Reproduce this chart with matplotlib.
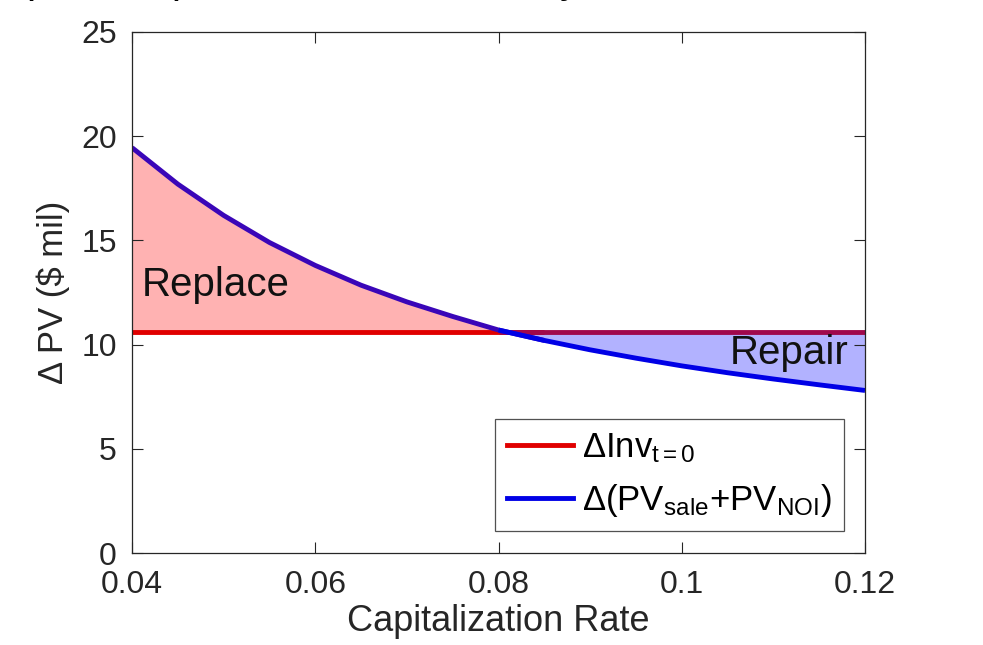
import matplotlib
matplotlib.use('Agg')
import matplotlib.pyplot as plt
import numpy as np

# capitalization rate vs change in present value ($ mil)
cap_rate = [0.040, 0.045, 0.050, 0.055, 0.060, 0.065, 0.070, 0.075, 0.080,
            0.085, 0.090, 0.095, 0.100, 0.105, 0.110, 0.115, 0.120]
pv_sale_noi = [19.45, 17.70, 16.20, 14.90, 13.80, 12.85, 12.05, 11.35, 10.70,
               10.20, 9.75, 9.35, 8.98, 8.65, 8.35, 8.07, 7.80]
inv_t0 = [10.6] * len(cap_rate)

x_ticks = [0.04, 0.06, 0.08, 0.1, 0.12]
x_labels = ['0.04', '0.06', '0.08', '0.1', '0.12']
y_ticks = [0, 5, 10, 15, 20, 25]

plt.rcParams['font.family'] = ['Liberation Sans', 'DejaVu Sans']
plt.rcParams['mathtext.fontset'] = 'custom'
plt.rcParams['mathtext.rm'] = 'Liberation Sans'
plt.rcParams['mathtext.it'] = 'Liberation Sans:italic'
plt.rcParams['mathtext.bf'] = 'Liberation Sans:bold'

fig = plt.figure(figsize=(9.83, 6.45), dpi=100)
ax = fig.add_axes([0.1343, 0.1426, 0.7457, 0.8078])

x = np.array(cap_rate)
blue = np.array(pv_sale_noi)
red = np.array(inv_t0)

# the shaded patches sit over the lines, so each line is tinted where it crosses one
left = x <= 0.085
right = x >= 0.080
ax.plot(x[left], red[left], color='#e00000', lw=3.5, solid_capstyle='butt', zorder=2)
ax.plot(x[right], red[right], color='#a0084c', lw=3.5, solid_capstyle='butt', zorder=2)
ax.plot(x[left], blue[left], color='#3a06b8', lw=3.5, solid_capstyle='butt', zorder=2)
ax.plot(x[right], blue[right], color='#0000e6', lw=3.5, solid_capstyle='butt', zorder=2)
ax.fill_between(x, red, blue, where=blue >= red, interpolate=True,
                color='red', alpha=0.3, lw=0, zorder=1)
ax.fill_between(x, red, blue, where=blue <= red, interpolate=True,
                color='blue', alpha=0.3, lw=0, zorder=1)

# legend handles
ax.plot([], [], color='#e00000', lw=3.5, label=r'$\Delta\mathrm{Inv}_{\mathrm{t=0}}$')
ax.plot([], [], color='#0000e6', lw=3.5,
        label=r'$\Delta\mathrm{(PV}_{\mathrm{sale}}\mathrm{+PV}_{\mathrm{NOI}}\mathrm{)}$')

ax.text(0.0411, 12.85, 'Replace', fontsize=29, va='center', ha='left',
        color='#111111', zorder=4)
ax.text(0.1182, 9.6, 'Repair', fontsize=29, va='center', ha='right',
        color='#111111', zorder=4)

ax.set_xlim(0.04, 0.12)
ax.set_ylim(0, 25)
ax.set_xticks(x_ticks)
ax.set_xticklabels(x_labels)
ax.set_yticks(y_ticks)
ax.tick_params(direction='in', length=8, width=0.8, top=True, right=True,
               labelsize=23, colors='#262626')
ax.tick_params(axis='x', pad=12)
ax.tick_params(axis='y', pad=11)
for s in ax.spines.values():
    s.set_color('#262626')
    s.set_linewidth(0.9)
    s.set_zorder(5)

ax.set_xlabel('Capitalization Rate', fontsize=26, color='#262626', labelpad=3)
ax.set_ylabel('Δ PV ($ mil)', fontsize=25, color='#262626', labelpad=8)

leg = ax.legend(loc='lower right', fontsize=25, frameon=True, fancybox=False,
                edgecolor='#262626', handlelength=1.9, handletextpad=0.25,
                borderaxespad=0.62, labelspacing=0.5, borderpad=0.35)
leg.get_frame().set_linewidth(0.9)
leg.set_zorder(6)

# fragments of text cut off at the top edge
for fx, ch in [(0.039, 'p'), (0.184, ')'), (0.580, 'y')]:
    fig.text(fx, 1.012, ch, fontsize=30, ha='center', va='baseline', color='black')

fig.savefig('out.png', dpi=100, facecolor='white')
